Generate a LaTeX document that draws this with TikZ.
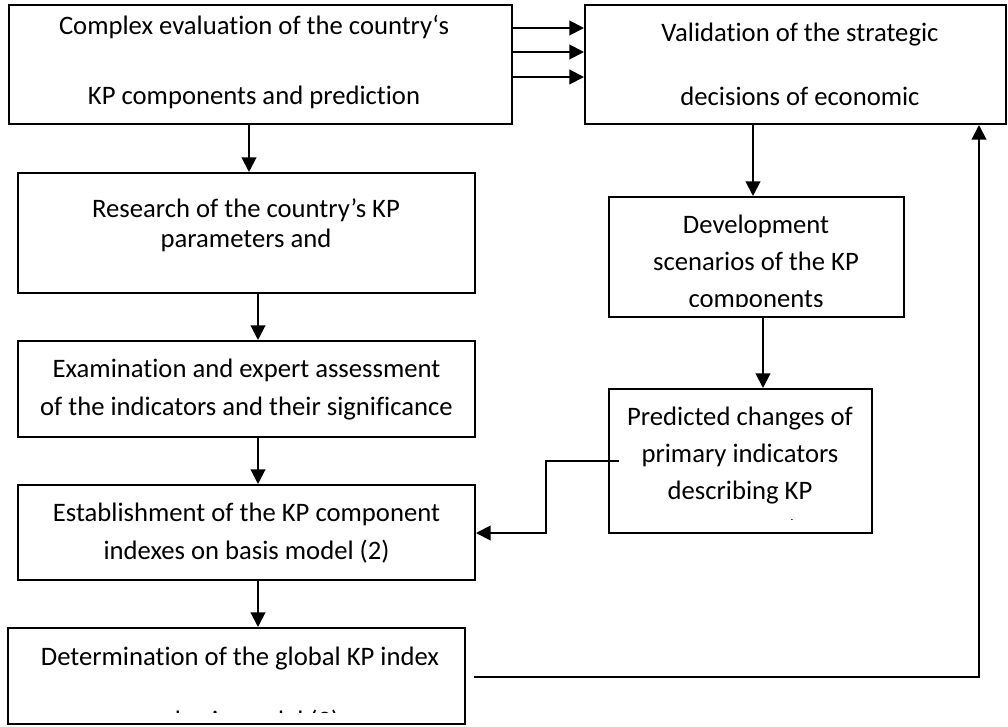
\documentclass[tikz,border=0pt]{standalone}
\usepackage{fontspec}
\setmainfont{Carlito}[Ligatures=NoCommon]
\usetikzlibrary{arrows.meta,fit}

\tikzset{
  box/.style={draw, line width=1.5pt, inner sep=0pt},
  boxtext/.style={anchor=base, align=center, inner sep=0pt},
  flow/.style={line width=1.5pt, -{Triangle[length=11pt,width=11pt]}},
}

\begin{document}
\begin{tikzpicture}[x=0.75pt,y=0.75pt,yscale=-1,xscale=1]
\useasboundingbox (0,0) rectangle (1008,726);

%Shape: Rectangle [evaluation]
\node [box, fit={(9,5) (512,124)}] (evaluation) {};
%Shape: Rectangle [validation]
\node [box, fit={(585,5) (1006,124)}] (validation) {};
%Shape: Rectangle [research]
\node [box, fit={(18,173) (475,293)}] (research) {};
%Shape: Rectangle [examination]
\node [box, fit={(18,341) (475,437)}] (examination) {};
%Shape: Rectangle [establishment]
\node [box, fit={(18,485) (475,580)}] (establishment) {};
%Shape: Rectangle [determination]
\node [box, fit={(8,628) (465,724)}] (determination) {};
%Shape: Rectangle [scenarios]
\node [box, fit={(609,197) (904,317)}] (scenarios) {};
%Shape: Rectangle [predicted]
\node [box, fit={(609,389) (872,533)}] (predicted) {};

% Text Node (base = last line)
\node [boxtext, font=\fontsize{20pt}{52.5pt}\selectfont] (evaluationtext) at (254,104) {Complex evaluation of the country‘s\\KP components and prediction};
% Text Node
\node [boxtext, font=\fontsize{20pt}{48pt}\selectfont] (validationtext) at (800,105) {Validation of the strategic\\decisions of economic};
% Text Node
\node [boxtext, font=\fontsize{20pt}{22.5pt}\selectfont] (researchtext) at (246,247) {Research of the country’s KP\\parameters and};
% Text Node
\node [boxtext, font=\fontsize{20pt}{28.5pt}\selectfont] (examinationtext) at (246.5,415) {Examination and expert assessment\\of the indicators and their significance};
% Text Node
\node [boxtext, font=\fontsize{20pt}{28.5pt}\selectfont] (establishmenttext) at (246.5,559) {Establishment of the KP component\\indexes on basis model (2)};
% Text Node
\begin{scope}
\clip (8,628) rectangle (465,712);
\node [boxtext, font=\fontsize{20pt}{48pt}\selectfont] (determinationtext) at (240,729) {Determination of the global KP index\\on basis model (3)};
\end{scope}
% Text Node
\begin{scope}
\clip (609,197) rectangle (904,306);
\node [boxtext, font=\fontsize{20pt}{27.75pt}\selectfont] (scenariostext) at (756,307.5) {Development\\scenarios of the KP\\components};
\end{scope}
% Text Node
\begin{scope}
\clip (609,389) rectangle (872,519.5);
\node [boxtext, font=\fontsize{20pt}{27.75pt}\selectfont] (predictedtext) at (740,536) {Predicted changes of\\primary indicators\\describing KP\\components};
\end{scope}

%Arrows
\foreach \y in {28,52,77}
  \draw [flow] (evaluation.east |- 0,\y) -- (validation.west |- 0,\y);
\draw [flow] (249,0 |- evaluation.south) -- (249,0 |- research.north);
\draw [flow] (258,0 |- research.south) -- (258,0 |- examination.north);
\draw [flow] (258,0 |- examination.south) -- (258,0 |- establishment.north);
\draw [flow] (258,0 |- establishment.south) -- (258,0 |- determination.north);
\draw [flow] (753,0 |- validation.south) -- (753,0 |- scenarios.north);
\draw [flow] (763,0 |- scenarios.south) -- (763,0 |- predicted.north);
%Connector from predicted changes
\coordinate (predout) at (619,461);
\draw [flow] (predout) -- (546,461) |- (establishment.east |- 0,533);
%Connector from global index
\coordinate (detout) at (474,677);
\draw [flow] (detout) -| (979,0 |- validation.south);

\end{tikzpicture}
\end{document}
